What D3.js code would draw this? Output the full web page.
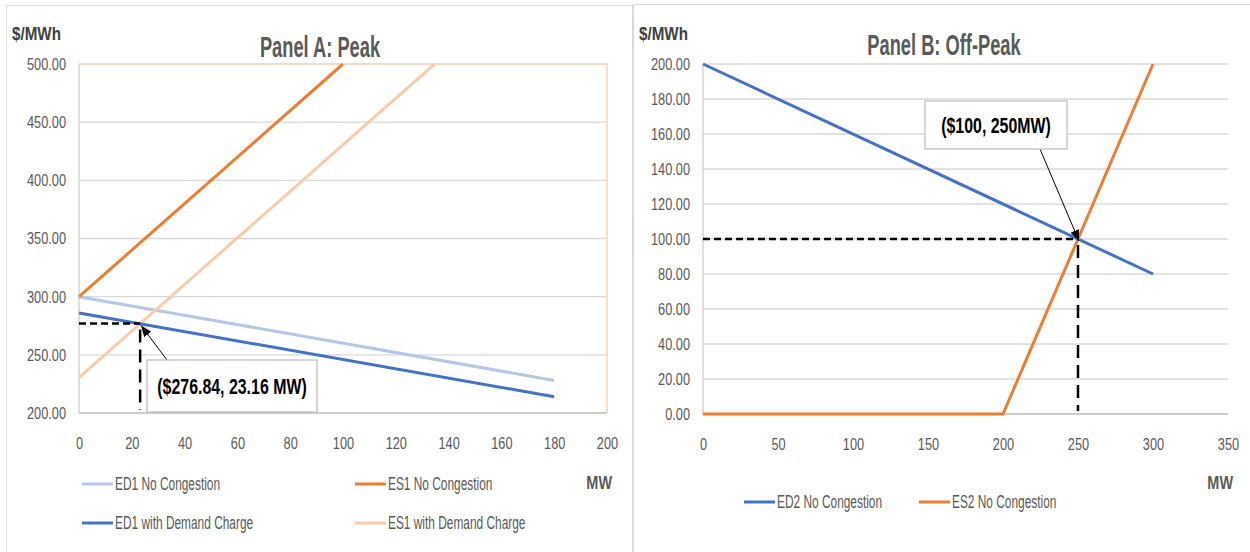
<!DOCTYPE html>
<html>
<head>
<meta charset="utf-8">
<script src="https://cdn.jsdelivr.net/npm/d3@7"></script>
<style>
  body { margin: 0; background: #fff; }
  svg text { font-family: "Liberation Sans", Arial, sans-serif; }
</style>
</head>
<body>
<script>
// Panel A data
var aXTicks = [0, 20, 40, 60, 80, 100, 120, 140, 160, 180, 200];
var aYTicks = [200, 250, 300, 350, 400, 450, 500];
var ed1NoCong = [[0, 300], [180, 228]];
var ed1Demand = [[0, 286], [180, 214]];
var es1NoCong = [[0, 300], [100, 500]];
var es1Demand = [[0, 230.5], [134.75, 500]];
var aPoint = [23.16, 276.84];
var aLabel = "($276.84, 23.16 MW)";

// Panel B data
var bXTicks = [0, 50, 100, 150, 200, 250, 300, 350];
var bYTicks = [0, 20, 40, 60, 80, 100, 120, 140, 160, 180, 200];
var ed2NoCong = [[0, 200], [300, 80]];
var es2NoCong = [[0, 0], [200, 0], [250, 100], [300, 200]];
var bPoint = [250, 100];
var bLabel = "($100, 250MW)";

var W = 1250, H = 552;
var svg = d3.select("body").append("svg").attr("width", W).attr("height", H);

svg.append("defs").append("marker")
  .attr("id", "arr").attr("viewBox", "0 0 10 10")
  .attr("refX", 10).attr("refY", 5)
  .attr("markerWidth", 11).attr("markerHeight", 9)
  .attr("markerUnits", "userSpaceOnUse")
  .attr("orient", "auto")
  .attr("preserveAspectRatio", "none")
  .append("path").attr("d", "M0,0 L10,5 L0,10 z").attr("fill", "#000");

// narrow text (the original font is condensed)
function txt(g, x, y, k, s) {
  return g.append("text")
    .attr("transform", "translate(" + x + "," + y + ") scale(" + k + ",1)")
    .text(s);
}

// panel frames
svg.append("rect").attr("x", 6.5).attr("y", 5.5).attr("width", 626).attr("height", 560)
  .attr("fill", "#fff").attr("stroke", "#d9d9d9");
svg.append("rect").attr("x", 633.5).attr("y", 4.5).attr("width", 630).attr("height", 560)
  .attr("fill", "#fff").attr("stroke", "#d9d9d9");

function panel(o) {
  var x = d3.scaleLinear().domain(o.xDom).range([o.x0, o.x1]);
  var y = d3.scaleLinear().domain(o.yDom).range([o.y0, o.y1]);
  var g = svg.append("g");

  // grid
  g.selectAll(".grid").data(o.yTicks).enter().append("line")
    .attr("x1", o.x0).attr("x2", o.x1)
    .attr("y1", function(d){ return y(d); }).attr("y2", function(d){ return y(d); })
    .attr("stroke", "#d9d9d9").attr("stroke-width", 1.3);

  if (o.frame) {
    g.append("path")
      .attr("d", "M" + o.x0 + "," + o.y1 + " L" + o.x1 + "," + o.y1 + " L" + o.x1 + "," + o.y0)
      .attr("fill", "none").attr("stroke", "#fbd5bd").attr("stroke-width", 1.6);
  }
  // axis lines
  g.append("line").attr("x1", o.x0).attr("x2", o.x0).attr("y1", o.y1).attr("y2", o.y0)
    .attr("stroke", "#d0cece").attr("stroke-width", 1.3);
  g.append("line").attr("x1", o.x0).attr("x2", o.x1).attr("y1", o.y0).attr("y2", o.y0)
    .attr("stroke", "#c9c4c4").attr("stroke-width", 1.5);

  // tick labels
  var ya = g.append("g").attr("transform", "translate(" + o.x0 + ",0)")
    .call(d3.axisLeft(y).tickValues(o.yTicks).tickSize(0).tickFormat(d3.format(".2f")));
  ya.selectAll("text").attr("x", 0).attr("transform", "translate(-13,0) scale(0.75,1)");
  var xa = g.append("g").attr("transform", "translate(0," + o.y0 + ")")
    .call(d3.axisBottom(x).tickValues(o.xTicks).tickSize(0).tickFormat(d3.format("d")));
  xa.selectAll("text").attr("y", 0).attr("transform", "translate(0,24) scale(0.75,1)");
  [ya, xa].forEach(function(a){
    a.select(".domain").remove();
    a.selectAll("text").attr("fill", "#595959").style("font-size", "17px");
  });

  var line = d3.line().x(function(d){ return x(d[0]); }).y(function(d){ return y(d[1]); });
  o.series.forEach(function(s){
    g.append("path").datum(s.data).attr("d", line)
      .attr("fill", "none").attr("stroke", s.color).attr("stroke-width", 3);
  });

  // dashed guides
  var px = x(o.point[0]), py = y(o.point[1]);
  g.append("line").attr("x1", o.x0).attr("x2", px).attr("y1", py).attr("y2", py)
    .attr("stroke", "#000").attr("stroke-width", 2.5).attr("stroke-dasharray", "7,4");
  g.append("line").attr("x1", px).attr("x2", px).attr("y1", py + 6).attr("y2", o.y0 - 3)
    .attr("stroke", "#000").attr("stroke-width", 2.5).attr("stroke-dasharray", "13,7");

  // callout
  var b = o.box;
  g.append("line").attr("x1", b.ax).attr("y1", b.ay).attr("x2", px + 1).attr("y2", py + 2)
    .attr("stroke", "#000").attr("stroke-width", 1).attr("marker-end", "url(#arr)");
  g.append("rect").attr("x", b.x).attr("y", b.y).attr("width", b.w).attr("height", b.h)
    .attr("fill", "#fff").attr("stroke", "#bfbfbf").attr("stroke-width", 1.3);
  txt(g, b.x + b.w / 2, b.y + b.h / 2 + 8, 0.74, o.label)
    .attr("text-anchor", "middle").attr("fill", "#000")
    .style("font-size", "21.5px").style("font-weight", "bold");

  // titles
  txt(g, o.titleX, o.titleY, 0.62, o.title).attr("text-anchor", "middle")
    .attr("fill", "#595959").style("font-size", "29.5px").style("font-weight", "bold");
  txt(g, o.unitX, 40, 0.8, "$/MWh")
    .attr("fill", "#404040").style("font-size", "19px").style("font-weight", "bold");
  txt(g, o.x1 + 5, 489, 0.78, "MW").attr("text-anchor", "end")
    .attr("fill", "#595959").style("font-size", "18.5px").style("font-weight", "bold");

  // legend
  o.legend.forEach(function(l){
    g.append("line").attr("x1", l.x).attr("x2", l.x + 31).attr("y1", l.y).attr("y2", l.y)
      .attr("stroke", l.color).attr("stroke-width", 3);
    txt(g, l.x + 33, l.y + 6, 0.68, l.name)
      .attr("fill", "#595959").style("font-size", "17.5px");
  });
}

panel({
  xDom: [0, 200], yDom: [200, 500], x0: 79, x1: 607, y0: 413, y1: 64,
  xTicks: aXTicks, yTicks: aYTicks, frame: true,
  series: [
    { data: ed1NoCong, color: "#b4c7e7" },
    { data: es1Demand, color: "#f8cbad" },
    { data: ed1Demand, color: "#4472c4" },
    { data: es1NoCong, color: "#ed7d31" }
  ],
  point: aPoint, label: aLabel,
  box: { x: 147, y: 360, w: 170, h: 52, ax: 167, ay: 360 },
  title: "Panel A: Peak", titleX: 320, titleY: 57, unitX: 12,
  legend: [
    { x: 82, y: 484, color: "#b4c7e7", name: "ED1 No Congestion" },
    { x: 355, y: 484, color: "#ed7d31", name: "ES1 No Congestion" },
    { x: 82, y: 523, color: "#4472c4", name: "ED1 with Demand Charge" },
    { x: 355, y: 523, color: "#f8cbad", name: "ES1 with Demand Charge" }
  ]
});

panel({
  xDom: [0, 350], yDom: [0, 200], x0: 703, x1: 1228, y0: 414, y1: 64,
  xTicks: bXTicks, yTicks: bYTicks, frame: false,
  series: [
    { data: ed2NoCong, color: "#4472c4" },
    { data: es2NoCong, color: "#ed7d31" }
  ],
  point: bPoint, label: bLabel,
  box: { x: 925, y: 101, w: 142, h: 48, ax: 1040, ay: 149 },
  title: "Panel B: Off-Peak", titleX: 944, titleY: 55, unitX: 639,
  legend: [
    { x: 744, y: 502, color: "#4472c4", name: "ED2 No Congestion" },
    { x: 919, y: 502, color: "#ed7d31", name: "ES2 No Congestion" }
  ]
});
</script>
</body>
</html>
